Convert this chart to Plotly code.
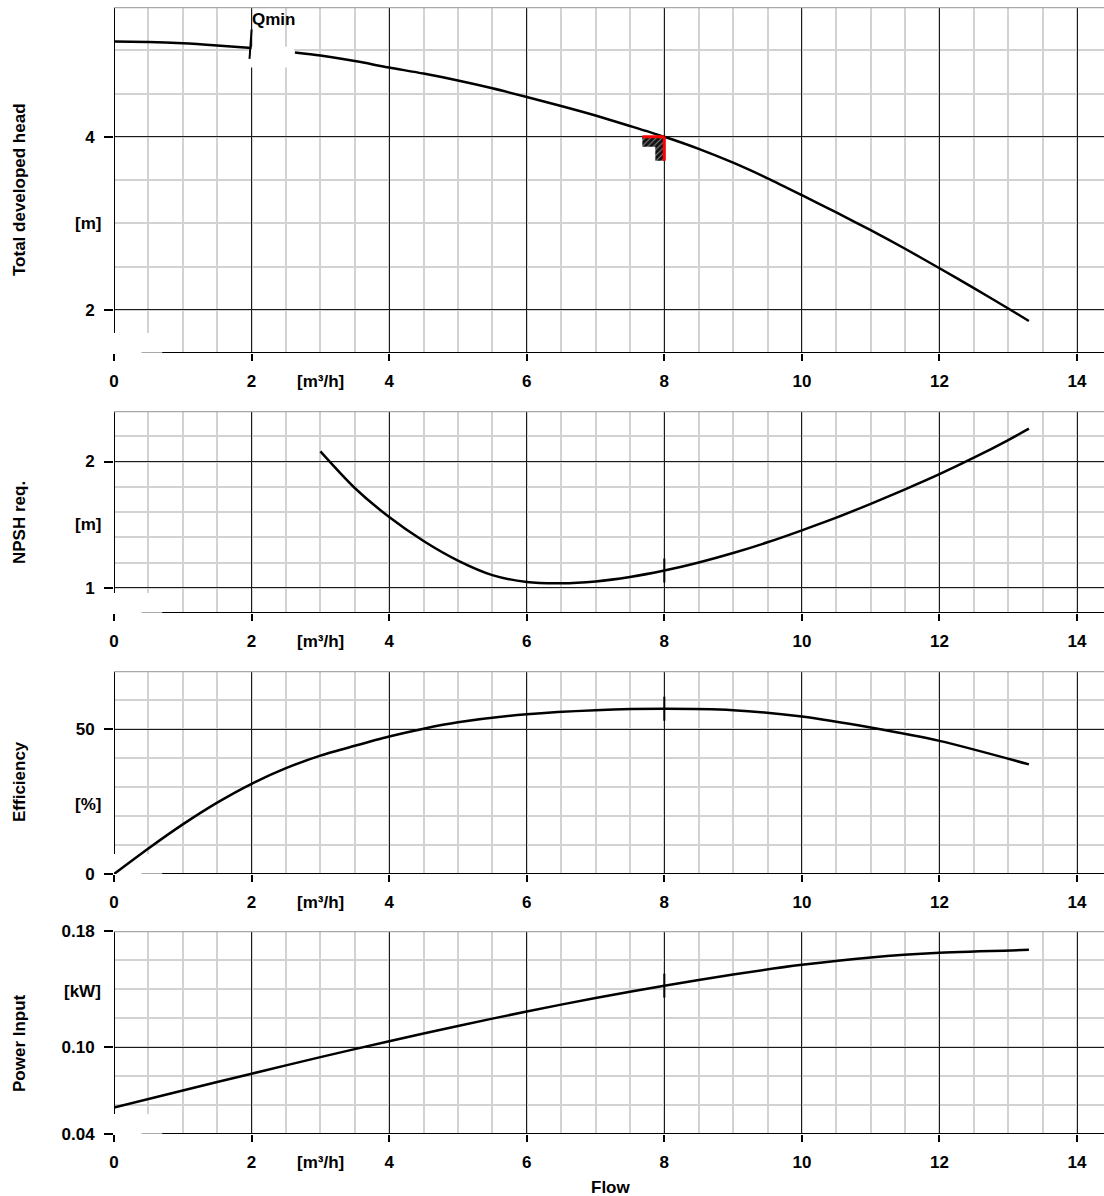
import plotly.graph_objects as go

# ---------------- data ----------------
flow_ticks = [0, 2, 4, 6, 8, 10, 12, 14]
flow_tick_text = ["0", "2", "4", "6", "8", "10", "12", "14"]
flow_unit = "[m³/h]"

head_flow = [0, 0.5, 1.0, 1.5, 2.0, None, 2.63, 3.0, 3.5, 4.0, 4.5, 5.0, 5.5, 6.0, 6.5,
             7.0, 7.5, 8.0, 8.5, 9.0, 9.5, 10.0, 10.5, 11.0, 11.5, 12.0, 12.5, 13.0, 13.3]
head_m = [5.10, 5.095, 5.08, 5.055, 5.025, None, 4.975, 4.94, 4.875, 4.80, 4.73, 4.65, 4.56,
          4.46, 4.355, 4.245, 4.125, 4.00, 3.86, 3.70, 3.52, 3.325, 3.125, 2.92, 2.705, 2.48,
          2.25, 2.015, 1.87]

npsh_flow = [3.0, 3.5, 4.0, 4.5, 5.0, 5.5, 6.0, 6.5, 7.0, 7.5, 8.0, 8.5, 9.0, 9.5, 10.0,
             10.5, 11.0, 11.5, 12.0, 12.5, 13.0, 13.3]
npsh_m = [2.08, 1.79, 1.56, 1.37, 1.215, 1.10, 1.045, 1.035, 1.05, 1.085, 1.136, 1.20,
          1.275, 1.36, 1.455, 1.555, 1.665, 1.78, 1.90, 2.03, 2.17, 2.26]

eff_flow = [0, 0.5, 1.0, 1.5, 2.0, 2.5, 3.0, 3.5, 4.0, 4.5, 5.0, 6.0, 7.0, 8.0, 9.0,
            10.0, 11.0, 12.0, 13.3]
eff_pct = [0, 8.8, 17.1, 24.6, 31.1, 36.5, 40.8, 44.2, 47.4, 50.1, 52.3, 55.1, 56.5,
           57.0, 56.5, 54.3, 50.5, 45.9, 37.8]

pwr_flow = [0, 1, 2, 3, 4, 5, 6, 7, 8, 9, 10, 11, 12, 13.3]
pwr_kw = [0.0583, 0.0700, 0.0816, 0.0930, 0.1040, 0.1145, 0.1245, 0.1338, 0.1423, 0.1500,
          0.1567, 0.1618, 0.1650, 0.1670]

duty_flow = 8.0
duty_head = 4.0
qmin_flow = 2.0

panel_titles = ["Total developed head", "NPSH req.", "Efficiency", "Power Input"]
panel_units = ["[m]", "[m]", "[%]", "[kW]"]
unit_pos = [3.0, 1.5, 24, 0.138]
y_ranges = [[1.5, 5.5], [0.8, 2.4], [0, 70], [0.04, 0.18]]
y_tickvals = [[2, 4], [1, 2], [0, 50], [0.04, 0.10, 0.18]]
y_ticktext = [["2", "4"], ["1", "2"], ["0", "50"], ["0.04", "0.10", "0.18"]]
y_minor = [0.5, 0.2, 10, 0.02]

# ---------------- layout geometry ----------------
W, H = 1104, 1196
L = 114
panel_px = [(7, 353), (411, 613), (671, 874), (931, 1134)]  # (top, bottom) pixels
ppx = 68.79
x_max = (W - L) / ppx
FONT = "Liberation Sans, Arial, Helvetica, sans-serif"
FS = 17
MAJOR = "#1a1a1a"
MINOR = "#d2d2d2"

fig = go.Figure()

def ax(i, base):
    return base if i == 0 else f"{base}{i+1}"

series = [(head_flow, head_m), (npsh_flow, npsh_m), (eff_flow, eff_pct), (pwr_flow, pwr_kw)]
for i, (xs, ys) in enumerate(series):
    fig.add_trace(go.Scatter(x=xs, y=ys, mode="lines", xaxis=ax(i, "x"), yaxis=ax(i, "y"),
                             line=dict(color="black", width=2.5, shape="spline", smoothing=0.8),
                             connectgaps=False, showlegend=False, hoverinfo="skip"))

# hatched duty-point marker (head panel)
ppu_head = (panel_px[0][1] - panel_px[0][0]) / (y_ranges[0][1] - y_ranges[0][0])
hx = [duty_flow - 22 / ppx, duty_flow, duty_flow, duty_flow - 9 / ppx, duty_flow - 9 / ppx,
      duty_flow - 22 / ppx]
hy = [duty_head, duty_head, duty_head - 24 / ppu_head, duty_head - 24 / ppu_head,
      duty_head - 10 / ppu_head, duty_head - 10 / ppu_head]
fig.add_trace(go.Scatter(x=hx, y=hy, mode="lines", fill="toself", line=dict(width=0, color="black"),
                         fillcolor="black",
                         fillpattern=dict(shape="/", fgcolor="white", bgcolor="#111111", size=4,
                                          solidity=0.25),
                         xaxis="x", yaxis="y", showlegend=False, hoverinfo="skip"))

layout = dict(width=W, height=H, margin=dict(l=L, r=0, t=0, b=0),
              plot_bgcolor="white", paper_bgcolor="white", showlegend=False,
              font=dict(family=FONT, size=FS, color="black", weight="bold"))
shapes = []
annotations = []

for i in range(4):
    top, bot = panel_px[i]
    dom = [1 - bot / H, 1 - top / H]
    y0r, y1r = y_ranges[i]
    ppu = (bot - top) / (y1r - y0r)
    xa, ya = ax(i, "x"), ax(i, "y")
    layout[ax(i, "xaxis")] = dict(
        domain=[0, 1], range=[0, x_max], anchor=ya, tickmode="array", tickvals=flow_ticks,
        ticktext=flow_tick_text, ticks="outside", ticklen=7, tickwidth=1.5, tickcolor="black",
        showgrid=True, gridcolor=MAJOR, gridwidth=1, zeroline=False, showline=False,
        minor=dict(tickmode="linear", tick0=0, dtick=0.5, showgrid=True, gridcolor=MINOR,
                   gridwidth=1.5, ticks=""),
        tickfont=dict(family=FONT, size=FS, weight="bold"), ticklabelstandoff=6,
        automargin=False, fixedrange=True)
    layout[ax(i, "yaxis")] = dict(
        domain=dom, range=[y0r, y1r], anchor=xa, tickmode="array", tickvals=y_tickvals[i],
        ticktext=y_ticktext[i], ticks="outside", ticklen=9, tickwidth=1.5, tickcolor="black",
        showgrid=True, gridcolor=MAJOR, gridwidth=1, zeroline=False, showline=False,
        minor=dict(tickmode="linear", tick0=0, dtick=y_minor[i], showgrid=True,
                   gridcolor=MINOR, gridwidth=1.5, ticks=""),
        tickfont=dict(family=FONT, size=FS, weight="bold"), ticklabelstandoff=6,
        automargin=False, fixedrange=True)

    # white patch near origin, left axis line, bottom axis, top border
    shapes.append(dict(type="rect", xref=xa, yref=ya, x0=-0.05, x1=0.55, y0=y0r - 1 / ppu,
                       y1=y0r + 20 / ppu, fillcolor="white", line=dict(width=0), layer="between"))
    shapes.append(dict(type="line", xref=xa, yref=ya, x0=0, x1=0, y0=y0r + 20 / ppu, y1=y1r,
                       line=dict(color="black", width=2), layer="between"))
    shapes.append(dict(type="line", xref=xa, yref=ya, x0=0.4, x1=0.7, y0=y0r, y1=y0r,
                       line=dict(color="#555555", width=1), layer="between"))
    shapes.append(dict(type="line", xref=xa, yref=ya, x0=0.7, x1=x_max, y0=y0r, y1=y0r,
                       line=dict(color="black", width=2), layer="between"))
    shapes.append(dict(type="line", xref=xa, yref=ya, x0=0, x1=x_max, y0=y1r, y1=y1r,
                       line=dict(color="#a8a8a8", width=2.5), layer="between"))

    # axis title (rotated) and unit label
    tcenter = [190, 523, 782, 1043][i]
    annotations.append(dict(text=panel_titles[i], textangle=-90, xref="paper", yref="paper",
                            x=(19 - L) / (W - L), y=1 - tcenter / H, xanchor="center",
                            yanchor="middle", showarrow=False,
                            font=dict(family=FONT, size=FS, weight="bold")))
    annotations.append(dict(text=panel_units[i], xref="paper", yref=ya, x=(103 - L) / (W - L),
                            y=unit_pos[i], xanchor="right", yanchor="middle", showarrow=False,
                            font=dict(family=FONT, size=FS, weight="bold")))
    annotations.append(dict(text=flow_unit, xref=xa, yref=f"{ya} domain", x=3.0, y=0,
                            yshift=-28, xanchor="center", yanchor="middle", showarrow=False,
                            font=dict(family=FONT, size=FS, weight="bold")))

# Qmin marker and gap patch in head panel
shapes.append(dict(type="rect", xref="x", yref="y", x0=qmin_flow - 0.02, x1=2.62, y0=4.80,
                   y1=5.04, fillcolor="white", line=dict(width=0), layer="between"))
shapes.append(dict(type="line", xref="x", yref="y", x0=qmin_flow - 0.03, x1=qmin_flow,
                   y0=4.90, y1=5.24, line=dict(color="black", width=2), layer="above"))
annotations.append(dict(text="Qmin", xref="x", yref="y", x=qmin_flow - 0.02, y=5.35,
                        xanchor="left", yanchor="middle", showarrow=False,
                        font=dict(family=FONT, size=FS, weight="bold")))

# duty point (red corner) in head panel
shapes.append(dict(type="line", xref="x", yref="y", x0=duty_flow - 22 / ppx, x1=duty_flow,
                   y0=duty_head, y1=duty_head, line=dict(color="red", width=3), layer="above"))
shapes.append(dict(type="line", xref="x", yref="y", x0=duty_flow, x1=duty_flow, y0=duty_head,
                   y1=duty_head - 24 / ppu_head, line=dict(color="red", width=3), layer="above"))

# duty ticks on the other curves
duty_vals = [npsh_m[npsh_flow.index(8.0)], eff_pct[eff_flow.index(8.0)], pwr_kw[pwr_flow.index(8)]]
for k, v in enumerate(duty_vals):
    i = k + 1
    shapes.append(dict(type="line", xref=ax(i, "x"), yref=ax(i, "y"), x0=duty_flow, x1=duty_flow,
                       ysizemode="pixel", yanchor=v, y0=-12, y1=12,
                       line=dict(color="black", width=2), layer="above"))

annotations.append(dict(text="Flow", xref="x4", yref="paper", x=7.22, y=1 - 1187 / H,
                        xanchor="center", yanchor="middle", showarrow=False,
                        font=dict(family=FONT, size=FS, weight="bold")))

layout["shapes"] = shapes
layout["annotations"] = annotations
fig.update_layout(**layout)
fig.write_html("out.html", config={"displayModeBar": False},
               post_script="document.body.style.margin='0';"
                           "document.body.style.overflow='hidden';")
